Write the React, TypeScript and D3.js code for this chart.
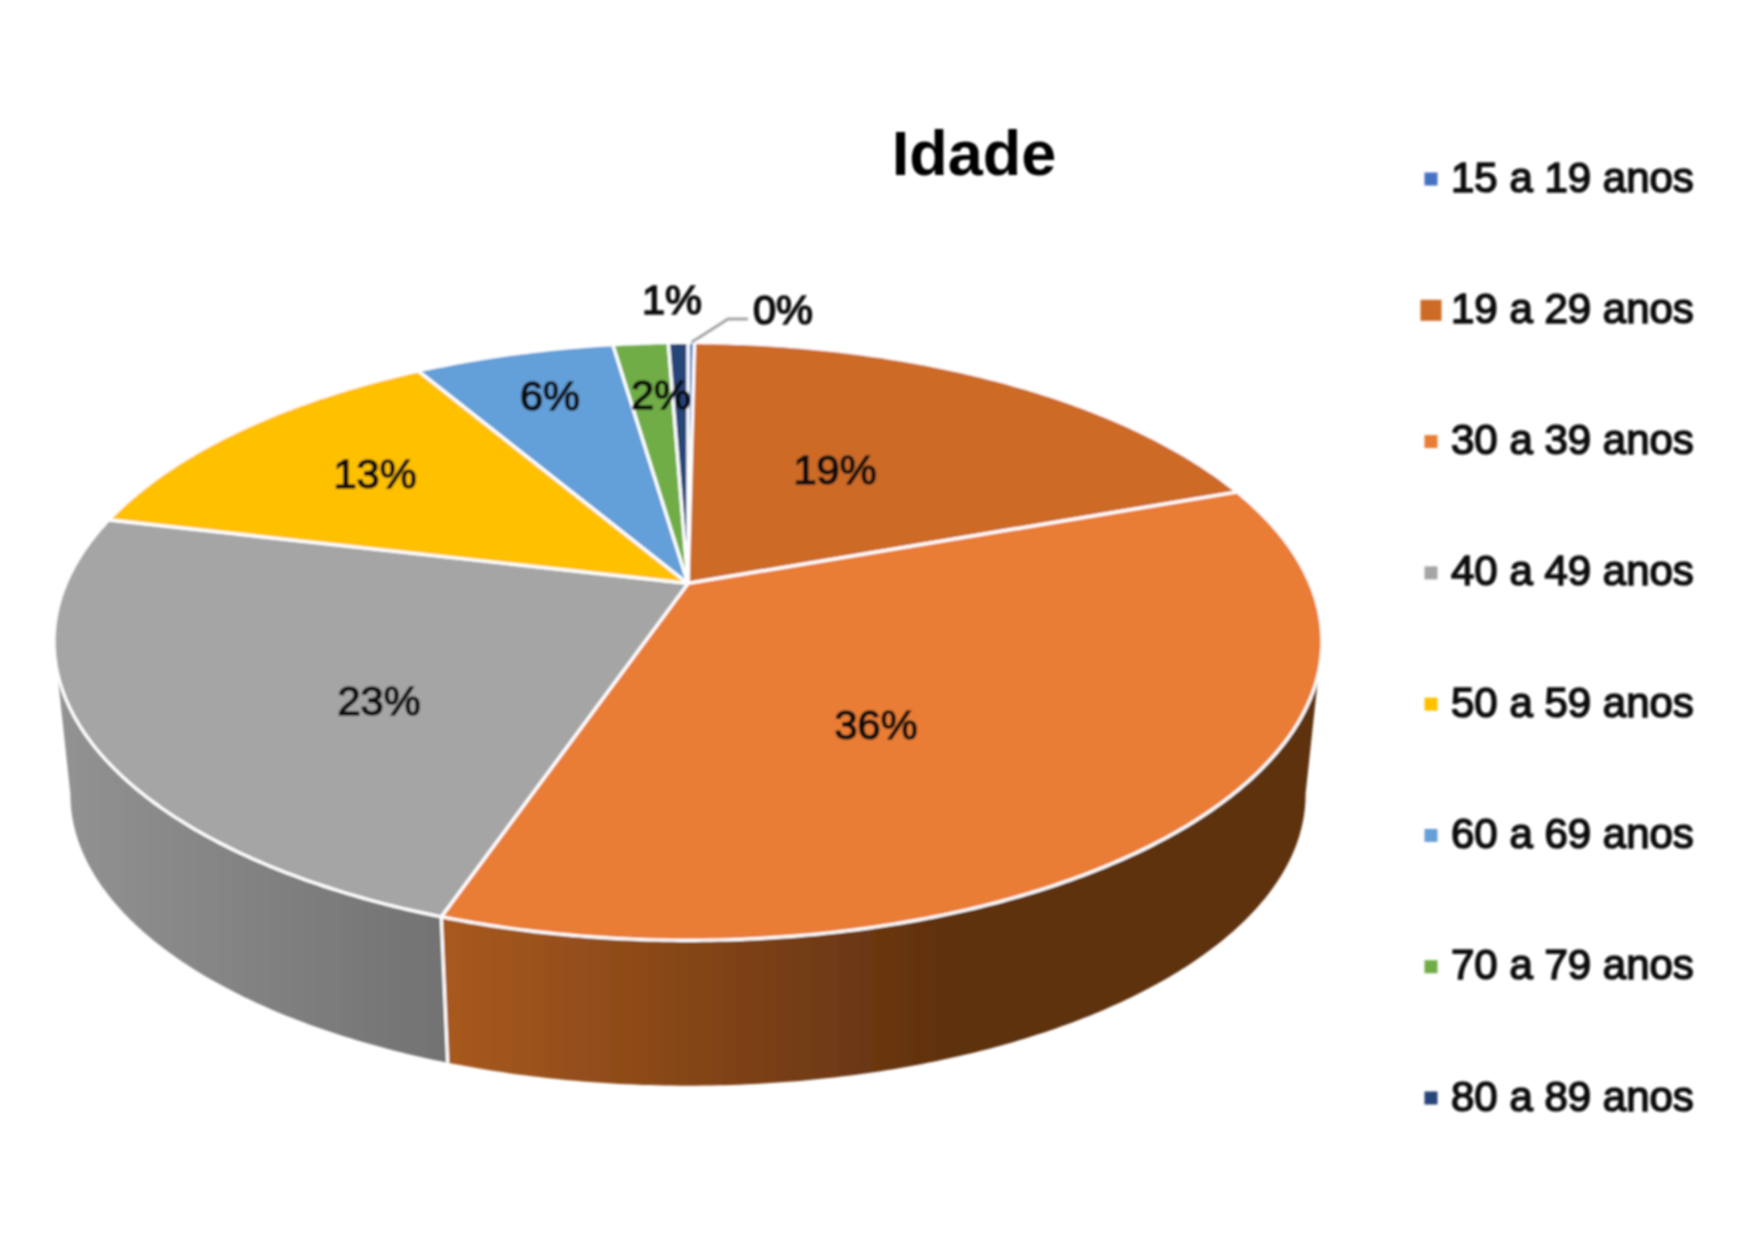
import React from "react";
import * as d3 from "d3";

const categories = ["15 a 19 anos", "19 a 29 anos", "30 a 39 anos", "40 a 49 anos", "50 a 59 anos", "60 a 69 anos", "70 a 79 anos", "80 a 89 anos"];
const shares = [0.2, 19.3, 35.75, 23.45, 12.85, 6.15, 1.7, 0.6];
const colors = ["#4472c4", "#cd6b27", "#ea7d35", "#a5a5a5", "#ffc000", "#639fd8", "#70ad47", "#264478"];

// label centres, same order as the slices
const labelX = [783, 835, 876, 379, 375, 550, 661, 672];
const labelY = [309, 469, 724, 700, 473, 395, 394, 299];

const legendY = d3.scaleLinear().domain([0, 7]).range([176, 1095]);

// perspective of the pie plane
const W = 1749;
const H = 1241;
const cx = 688;
const a = 622;
const b = 287.7;
const k = 0.194;
const topY = 583.4;
const botY = 738;
const botScale = 0.974;

const project = (angle: number, r = 1, level = 0): [number, number] => {
  const u = r * Math.sin(angle);
  const v = r * Math.cos(angle);
  const w = 1 + k * v;
  const s = level === 0 ? 1 : botScale;
  const y0 = level === 0 ? topY : botY;
  return [cx + (s * a * u) / w, y0 - (s * b * v) / w];
};

const line = d3.line();
const pieLayout = d3.pie<number>().sort(null).value((d) => d);
const slices = pieLayout(shares);

const arcAngles = (start: number, end: number) => {
  const n = Math.max(2, Math.ceil((end - start) / 0.01));
  return d3.range(n + 1).map((i) => start + ((end - start) * i) / n);
};

const facePath = (start: number, end: number) =>
  line([project(0, 0), ...arcAngles(start, end).map((t) => project(t))]) + "Z";

// one small quad per step, so the wall also fills the straight silhouette at the sides
const wallPath = (start: number, end: number) => {
  const angles = arcAngles(start, end);
  return d3
    .pairs(angles)
    .map(([t0, t1]) => {
      const quad = project(t0)[0] < project(t1)[0]
        ? [project(t0), project(t1), project(t1, 1, 1), project(t0, 1, 1)]
        : [project(t1), project(t0), project(t0, 1, 1), project(t1, 1, 1)];
      return line(quad) + "Z";
    })
    .join("");
};

const App = () => {
  const [orangeStart, orangeEnd] = [slices[2].startAngle, slices[2].endAngle];
  const [greyStart, greyEnd] = [slices[3].startAngle, slices[3].endAngle];
  const zeroMid = (slices[0].startAngle + slices[0].endAngle) / 2;
  const leaderStart = project(zeroMid);
  const font = "'Liberation Sans', Arial, sans-serif";

  return (
    <svg width={W} height={H} style={{ position: "absolute", left: 0, top: 0, display: "block" }}>
      <defs>
        <linearGradient id="wallOrange" gradientUnits="userSpaceOnUse" x1={446} x2={960} y1={0} y2={0}>
          <stop offset="0" stopColor="#a8591f" />
          <stop offset="1" stopColor="#5d300f" />
        </linearGradient>
        <linearGradient id="wallGrey" gradientUnits="userSpaceOnUse" x1={60} x2={446} y1={0} y2={0}>
          <stop offset="0" stopColor="#929292" />
          <stop offset="1" stopColor="#727272" />
        </linearGradient>
        <filter id="soft" x="0" y="0" width="100%" height="100%" filterUnits="userSpaceOnUse">
          <feGaussianBlur stdDeviation="0.8" />
        </filter>
      </defs>
      <rect width={W} height={H} fill="#fff" />
      <g filter="url(#soft)">
        <path d={wallPath(greyStart, greyEnd)} fill="url(#wallGrey)" />
        <path d={wallPath(orangeStart, orangeEnd)} fill="url(#wallOrange)" />
        <path
          d={line([project(orangeEnd), project(orangeEnd, 1, 1)]) as string}
          stroke="#fff"
          strokeWidth={3.2}
          fill="none"
        />
        {slices.map((s, i) => (
          <path
            key={categories[i]}
            d={facePath(s.startAngle, s.endAngle)}
            fill={colors[i]}
            stroke="#fff"
            strokeWidth={3.2}
            strokeLinejoin="round"
          />
        ))}
        <path
          d={line([leaderStart, [728, 319], [748, 319]]) as string}
          fill="none"
          stroke="#a6a6a6"
          strokeWidth={2.8}
        />
        {slices.map((s, i) => (
          <text
            key={categories[i]}
            x={labelX[i]}
            y={labelY[i]}
            dy="0.36em"
            textAnchor="middle"
            fontFamily={font}
            fontSize={41.5}
            fill="#111"
            stroke="#111"
            strokeWidth={1.6}
          >
            {Math.round(s.value)}%
          </text>
        ))}
        <text x={974} y={175} textAnchor="middle" fontFamily={font} fontWeight="bold" fontSize={63} fill="#000">
          Idade
        </text>
        {categories.map((c, i) => {
          const size = i === 1 ? 21 : 13;
          return (
            <g key={c}>
              <rect x={1431 - size / 2} y={legendY(i) - size / 2 + 3} width={size} height={size} fill={colors[i]} />
              <text
                x={1451}
                y={legendY(i)}
                dy="0.37em"
                fontFamily={font}
                fontSize={42}
                fill="#111"
                stroke="#111"
                strokeWidth={1.6}
              >
                {c}
              </text>
            </g>
          );
        })}
      </g>
    </svg>
  );
};

export default App;
